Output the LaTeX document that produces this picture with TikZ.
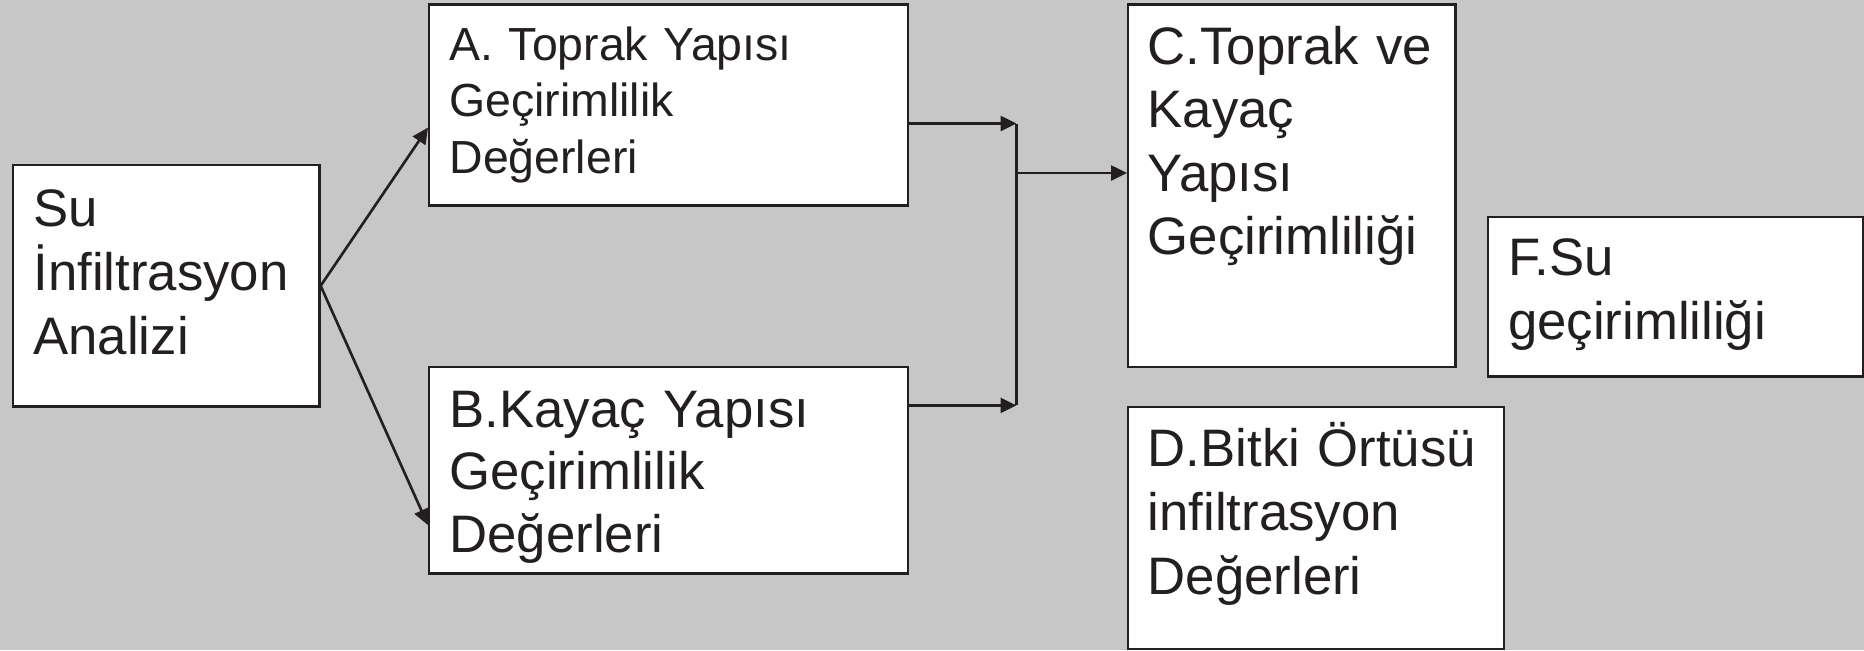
\documentclass[tikz,border=0pt]{standalone}
\usepackage{fontspec}
\setmainfont{Liberation Sans}
\usetikzlibrary{arrows.meta,positioning}
\definecolor{canvas}{RGB}{199,199,199}
\definecolor{ink}{RGB}{35,31,32}
\tikzset{kutu/.style={rectangle, draw=ink, line width=0.7pt, fill=white, anchor=north west, inner sep=0pt}}
\tikzset{yazi/.style={anchor=base west, inner sep=0pt, text width=4cm, align=left, text=ink, font=\fontsize{15}{18.2}\selectfont}}
\tikzset{ok/.style={draw=ink, line width=0.75pt, -{Triangle[length=0.16cm,width=0.15cm]}}}

\begin{document}
\begin{tikzpicture}[x=0.01cm, y=-0.01cm]
\useasboundingbox (0,0) rectangle (1864,650);
\fill[canvas] (0,0) rectangle (1864,650);

% kutular
\node(su)[kutu, minimum width=3.06cm, minimum height=2.41cm] at (12,164) {};
\node(A)[kutu, minimum width=4.785cm, minimum height=2.007cm] at (428,3.3) {};
\node(B)[kutu, minimum width=4.785cm, minimum height=2.064cm] at (428,365.6) {};
\node(C)[kutu, minimum width=3.27cm, minimum height=3.623cm] at (1127,3.3) {};
\node(F)[kutu, minimum width=3.754cm, minimum height=1.595cm] at (1486.6,215.5) {};
\node(D)[kutu, minimum width=3.756cm, minimum height=2.415cm] at (1127,406) {};

% yazilar
\node(suyazi)[yazi] at (32.7,226) {Su\\İnfiltrasyon\\Analizi};
\node(Ayazi)[yazi, font=\fontsize{13.2}{16.2}\selectfont] at (448.8,60) {A. Toprak Yapısı\\Geçirimlilik\\Değerleri};
\node(Byazi)[yazi, font=\fontsize{15}{17.9}\selectfont] at (448.8,427) {B.Kayaç Yapısı\\Geçirimlilik\\Değerleri};
\node(Cyazi)[yazi, font=\fontsize{15}{18.1}\selectfont] at (1147,64) {C.Toprak ve\\Kayaç\\Yapısı\\Geçirimliliği};
\node(Fyazi)[yazi] at (1507.4,275.6) {F.Su\\geçirimliliği};
\node(Dyazi)[yazi] at (1147,466) {D.Bitki Örtüsü\\infiltrasyon\\Değerleri};

% oklar
\coordinate(jA) at (1016.5,123.5);
\coordinate(jB) at (1016.5,405.4);
\coordinate(jC) at (1016.5,173);
\draw[ok] (su.east) -- ([yshift=-0.226cm]A.west);
\draw[ok] (su.east) -- ([yshift=-0.55cm]B.west);
\draw[ok] (A.east |- jA) -- (jA);
\draw[ok] (B.east |- jB) -- (jB);
\draw[draw=ink, line width=0.75pt] (jA) -- (jB);
\draw[ok] (jC) -- (C.west |- jC);
\end{tikzpicture}
\end{document}
